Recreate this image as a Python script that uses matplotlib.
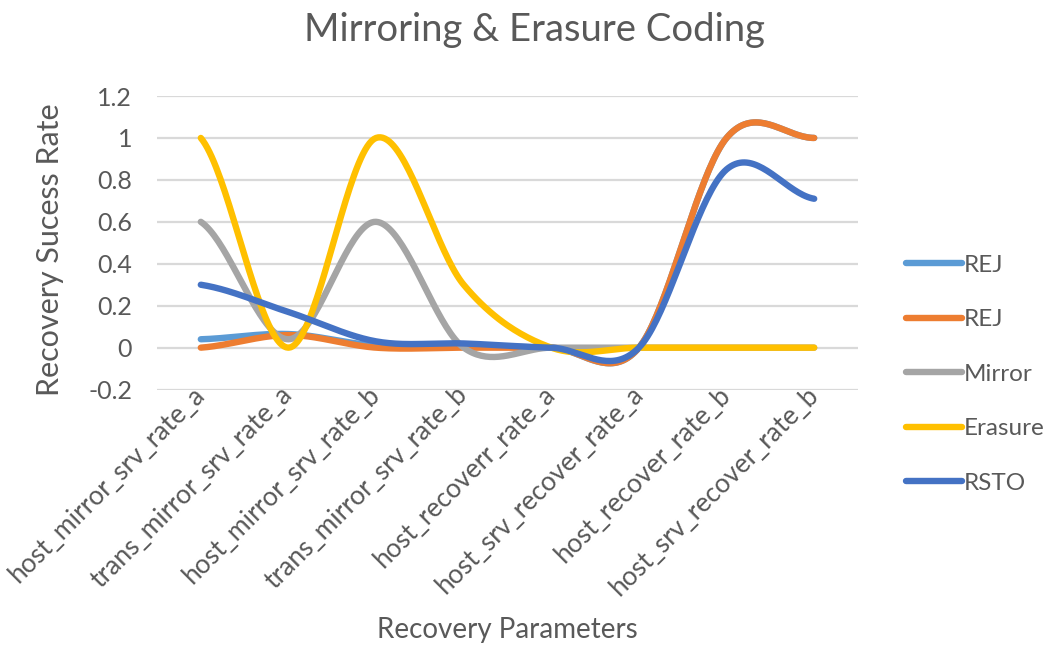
import numpy as np
import matplotlib
matplotlib.use("Agg")
import matplotlib.pyplot as plt

categories = ["host_mirror_srv_rate_a", "trans_mirror_srv_rate_a", "host_mirror_srv_rate_b",
              "trans_mirror_srv_rate_b", "host_recoverr_rate_a", "host_srv_recover_rate_a",
              "host_recover_rate_b", "host_srv_recover_rate_b"]
rej1 = [0.04, 0.065, 0.01, 0.01, 0.0, 0.0, 1.0, 1.0]
rej2 = [0.0, 0.06, 0.0, 0.0, 0.0, 0.0, 1.0, 1.0]
mirror = [0.6, 0.04, 0.6, 0.0, 0.0, 0.0, 0.0, 0.0]
erasure = [1.0, 0.0, 1.0, 0.3, 0.0, 0.0, 0.0, 0.0]
rsto = [0.3, 0.17, 0.03, 0.02, 0.0, 0.0, 0.85, 0.71]
series_names = ["REJ", "REJ", "Mirror", "Erasure", "RSTO"]
colors = ["#5B9BD5", "#ED7D31", "#A5A5A5", "#FFC000", "#4472C4"]
yticks = [-0.2, 0, 0.2, 0.4, 0.6, 0.8, 1, 1.2]
ytick_labels = ["-0.2", "0", "0.2", "0.4", "0.6", "0.8", "1", "1.2"]


def smooth(y, n=40):
    y = np.asarray(y, float)
    x = np.arange(len(y), dtype=float)
    ext = np.concatenate([[y[0]], y, [y[-1]]])
    m = (ext[2:] - ext[:-2]) / 2.0
    xs, ys = [], []
    for i in range(len(y) - 1):
        t = np.linspace(0, 1, n, endpoint=(i == len(y) - 2))
        h00 = 2 * t**3 - 3 * t**2 + 1
        h10 = t**3 - 2 * t**2 + t
        h01 = -2 * t**3 + 3 * t**2
        h11 = t**3 - t**2
        xs.append(x[i] + t)
        ys.append(h00 * y[i] + h10 * m[i] + h01 * y[i + 1] + h11 * m[i + 1])
    return np.concatenate(xs), np.concatenate(ys)


plt.rcParams['font.family'] = ['Lato', 'DejaVu Sans']
txt = "#595959"

fig = plt.figure(figsize=(10.59, 6.47), dpi=100)
ax = fig.add_axes([157 / 1059, 1 - 389.6 / 647, (858 - 157) / 1059, (389.6 - 96) / 647])

for vals, name, c in zip([rej1, rej2, mirror, erasure, rsto], series_names, colors):
    sx, sy = smooth(vals)
    ax.plot(sx, sy, color=c, lw=4.6, label=name, solid_capstyle='round', zorder=3)

ax.set_xlim(-0.5, len(categories) - 0.5)
ax.set_ylim(-0.2, 1.2)
ax.set_yticks(yticks)
ax.set_yticklabels(ytick_labels, fontsize=18, color=txt)
ax.set_xticks(range(len(categories)))
ax.set_xticklabels(categories, rotation=45, ha='right', va='center', rotation_mode='anchor',
                   fontsize=19, color=txt)
ax.tick_params(axis='y', length=0, pad=18)
ax.tick_params(axis='x', length=0, pad=1)
for s in ax.spines.values():
    s.set_visible(False)
ax.grid(axis='y', color='#D9D9D9', lw=1.6, zorder=0)
ax.set_axisbelow(True)

fig.text(0.505, 1 - 30 / 647, "Mirroring & Erasure Coding", ha='center', va='center',
         fontsize=27.5, color=txt)
fig.text(50 / 1059, 1 - 250 / 647, "Recovery Sucess Rate", rotation=90, ha='center',
         va='center', fontsize=22, color=txt)
fig.text(507 / 1059, 1 - 630 / 647, "Recovery Parameters", ha='center', va='center',
         fontsize=20, color=txt)

leg = fig.legend(loc='upper left', bbox_to_anchor=(896 / 1059, 1 - 245 / 647), frameon=False,
                 fontsize=17.5, handlelength=2.3, handletextpad=0.1, labelspacing=1.38,
                 borderaxespad=0)
for t in leg.get_texts():
    t.set_color(txt)

fig.savefig("out.png", dpi=100)
